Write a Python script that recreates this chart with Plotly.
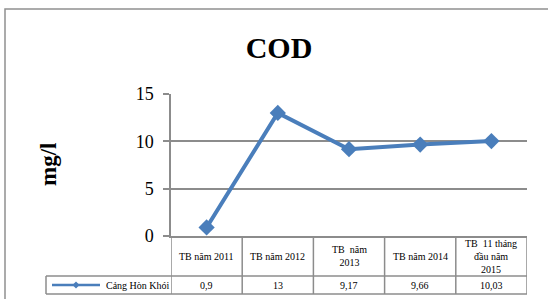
import plotly.graph_objects as go

# ---- data ----
categories = ["TB năm 2011", "TB năm 2012", "TB  năm<br>2013", "TB năm 2014", "TB  11 tháng<br>đầu năm<br>2015"]
series_name = "Cảng Hòn Khói"
cod_values = [0.9, 13, 9.17, 9.66, 10.03]
y_ticks = [0, 5, 10, 15]
chart_title = "COD"
y_title = "mg/l"

# ---- geometry (pixels) ----
W, H = 548, 299
L, R, T, B = 171, 527, 94, 236
HDR_BOTTOM, ROW_BOTTOM = 276, 294
LEG_LEFT = 46

def px(x):
    return (x - L) / (R - L)

def py(y):
    return (B - y) / (B - T)

BLUE = "#4a7ebb"
GRID = "#8c8c8c"
FONT = "'Liberation Serif', 'Times New Roman', Times, serif"

xs = list(range(len(categories)))
fig = go.Figure()
fig.add_trace(go.Scatter(
    x=xs, y=cod_values, mode="lines+markers", name=series_name,
    line=dict(color=BLUE, width=4),
    marker=dict(symbol="diamond", size=12.5, color=BLUE),
    showlegend=False, cliponaxis=False, hoverinfo="skip",
))

shapes = []
# outer border
shapes.append(dict(type="rect", xref="paper", yref="paper",
                   x0=px(5), x1=px(560), y0=py(9), y1=py(320),
                   fillcolor="rgba(0,0,0,0)",
                   line=dict(color="#909090", width=1.5)))
n = len(categories)
# table vertical lines at category boundaries
for i in range(n + 1):
    shapes.append(dict(type="line", xref="x", yref="paper",
                       x0=i - 0.5, x1=i - 0.5, y0=py(B), y1=py(ROW_BOTTOM),
                       line=dict(color=GRID, width=1.5)))
# horizontal lines
for yy in (HDR_BOTTOM, ROW_BOTTOM):
    shapes.append(dict(type="line", xref="paper", yref="paper",
                       x0=px(LEG_LEFT), x1=1, y0=py(yy), y1=py(yy),
                       line=dict(color=GRID, width=1.5)))
# legend cell left edge
shapes.append(dict(type="line", xref="paper", yref="paper",
                   x0=px(LEG_LEFT), x1=px(LEG_LEFT), y0=py(HDR_BOTTOM), y1=py(ROW_BOTTOM),
                   line=dict(color=GRID, width=1.5)))
# legend symbol
ly = (HDR_BOTTOM + ROW_BOTTOM) / 2
shapes.append(dict(type="line", xref="paper", yref="paper",
                   x0=px(52), x1=px(100), y0=py(ly), y1=py(ly),
                   line=dict(color=BLUE, width=2.5)))
d = 3.5
shapes.append(dict(type="path", xref="paper", yref="paper",
                   path=f"M {px(76-d)} {py(ly)} L {px(76)} {py(ly-d)} L {px(76+d)} {py(ly)} L {px(76)} {py(ly+d)} Z",
                   fillcolor=BLUE, line=dict(color=BLUE, width=0)))

annotations = []
hdr_mid = (B + HDR_BOTTOM) / 2
for i, c in enumerate(categories):
    annotations.append(dict(x=i, y=py(hdr_mid), xref="x", yref="paper",
                            text=c, showarrow=False, xanchor="center", yanchor="middle",
                            font=dict(family=FONT, size=10, color="#000")))
    annotations.append(dict(x=i, y=py(ly), xref="x", yref="paper",
                            text=f"{cod_values[i]:g}".replace(".", ","), showarrow=False,
                            xanchor="center", yanchor="middle",
                            font=dict(family=FONT, size=10, color="#000")))
annotations.append(dict(x=px(104), y=py(ly), xref="paper", yref="paper",
                        text=series_name, showarrow=False, xanchor="left", yanchor="middle",
                        font=dict(family=FONT, size=10, color="#000")))
annotations.append(dict(x=px(48), y=py(165), xref="paper", yref="paper",
                        text=f"<b>{y_title}</b>", showarrow=False, textangle=-90,
                        xanchor="center", yanchor="middle",
                        font=dict(family=FONT, size=23, color="#000")))

fig.update_layout(
    width=W, height=H,
    margin=dict(l=L, r=W - R, t=T, b=H - B, pad=0),
    paper_bgcolor="white", plot_bgcolor="white",
    title=dict(text=f"<b>{chart_title}</b>", x=279 / W, xanchor="center",
               y=1 - 47 / H, yanchor="middle",
               font=dict(family=FONT, size=30, color="#000")),
    xaxis=dict(range=[-0.5, n - 0.5], showgrid=False, zeroline=False,
               showticklabels=False, ticks="", showline=True,
               linecolor=GRID, linewidth=1.5, fixedrange=True),
    yaxis=dict(range=[0, 15], tickvals=y_ticks, showgrid=True, gridcolor=GRID,
               gridwidth=1.5, zeroline=False, showline=True, linecolor=GRID,
               linewidth=1.5, ticks="outside", ticklen=6, tickcolor=GRID,
               tickwidth=1.5, ticklabelstandoff=6, fixedrange=True,
               tickfont=dict(family=FONT, size=18, color="#000")),
    shapes=shapes, annotations=annotations, showlegend=False,
)

fig.write_html("out.html", config={"displayModeBar": False},
               post_script="document.body.style.margin='0';document.body.style.overflow='hidden';")
